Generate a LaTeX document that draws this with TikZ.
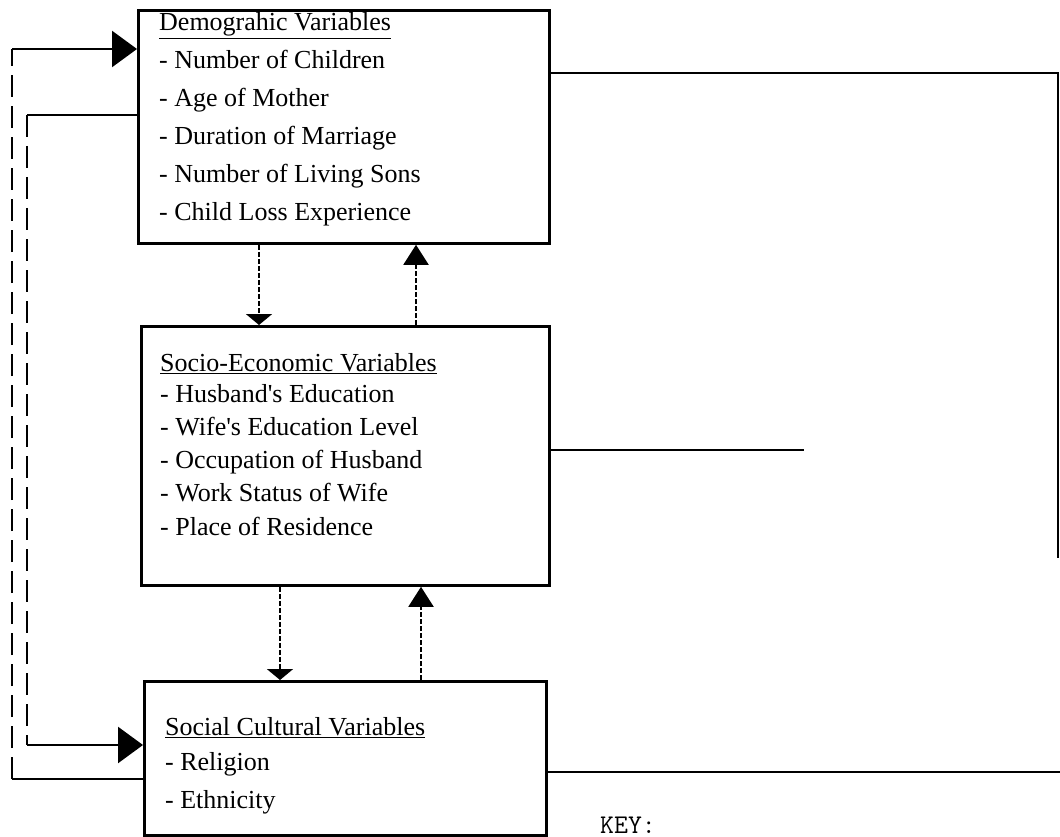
\documentclass[tikz,border=0pt]{standalone}
\usepackage{fontspec}
\setmainfont{Liberation Serif}
\usetikzlibrary{arrows.meta}
\tikzset{
  varbox/.style={draw, line width=2.8pt, rectangle, anchor=north west, inner sep=0pt},
  txt/.style={anchor=base west, inner sep=0pt, font=\fontsize{26}{30}\selectfont},
  solidln/.style={line width=2.5pt},
  dashln/.style={line width=2.5pt, dash pattern=on 22pt off 9pt},
  dotln/.style={line width=2pt, dash pattern=on 5pt off 2pt},
  bigtip/.style={-{Triangle[length=25pt,width=36pt]}},
  midtip/.style={-{Triangle[length=20pt,width=25pt]}},
  flattip/.style={-{Triangle[length=11pt,width=26pt]}},
}
\begin{document}
\begin{tikzpicture}[x=1pt,y=-1pt]
\useasboundingbox (0,0) rectangle (1060,837);
% boxes
\node[varbox, minimum width=411pt, minimum height=233pt] (top) at (137,9) {};
\node[varbox, minimum width=408pt, minimum height=259pt] (mid) at (140,325) {};
\node[varbox, minimum width=402pt, minimum height=154pt] (bot) at (143,680) {};
% texts
\node[txt] (t0) at (159,31) {\underline{Demograhic Variables}};
\node[txt] (t1) at (159,69) {- Number of Children};
\node[txt] (t2) at (159,107) {- Age of Mother};
\node[txt] (t3) at (159,145) {- Duration of Marriage};
\node[txt] (t4) at (159,183) {- Number of Living Sons};
\node[txt] (t5) at (159,221) {- Child Loss Experience};
\node[txt] (m0) at (160,371) {\underline{Socio-Economic Variables}};
\node[txt] (m1) at (160,402) {- Husband\textquotesingle s Education};
\node[txt] (m2) at (160,435) {- Wife\textquotesingle s Education Level};
\node[txt] (m3) at (160,468) {- Occupation of Husband};
\node[txt] (m4) at (160,501) {- Work Status of Wife};
\node[txt] (m5) at (160,535) {- Place of Residence};
\node[txt] (b0) at (165,735) {\underline{Social Cultural Variables}};
\node[txt] (b1) at (165,770) {- Religion};
\node[txt] (b2) at (165,808) {- Ethnicity};
\node[anchor=base west, inner sep=0pt, font=\ttfamily\fontsize{27}{30}\selectfont] (key) at (600,833) {KEY:};
% vertical dotted connectors
\draw[dotln, flattip] (259,0 |- top.south) -- (259,0 |- mid.north);
\draw[dotln, midtip] (416,0 |- mid.north) -- (416,0 |- top.south);
\draw[dotln, flattip] (280,0 |- mid.south) -- (280,0 |- bot.north);
\draw[dotln, midtip] (421,0 |- bot.north) -- (421,0 |- mid.south);
% left loops
\coordinate (oA) at (12,779);
\coordinate (oB) at (12,49);
\draw[solidln] (bot.west |- oA) -- (oA);
\draw[dashln] (oA) -- (oB);
\draw[solidln, bigtip] (oB) -- (top.west |- oB);
\coordinate (iA) at (27,115);
\coordinate (iB) at (27,745);
\draw[solidln] (top.west |- iA) -- (iA);
\draw[dashln] (iA) -- (iB);
\draw[solidln, bigtip] (iB) -- (bot.west |- iB);
% right lines
\coordinate (rA) at (1058,73);
\coordinate (rB) at (1058,558);
\draw[solidln] (top.east |- rA) -- (rA) -- (rB);
\coordinate (rC) at (804,450);
\draw[solidln] (mid.east |- rC) -- (rC);
\coordinate (rD) at (1060,772);
\draw[solidln] (bot.east |- rD) -- (rD);
\end{tikzpicture}
\end{document}
